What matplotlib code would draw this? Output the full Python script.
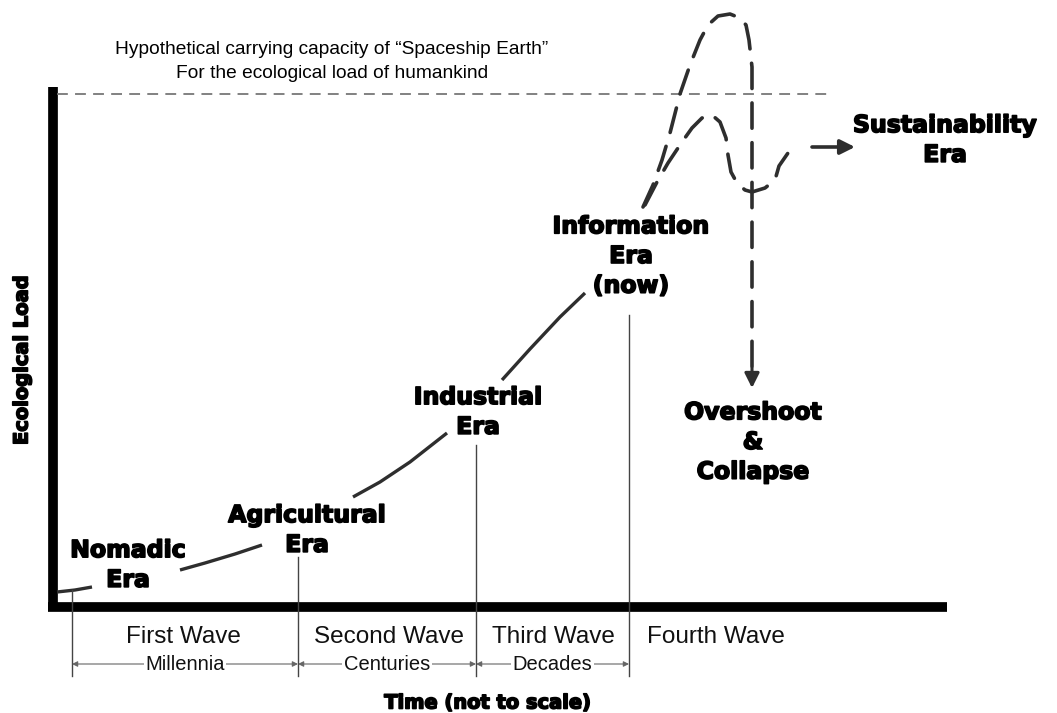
import numpy as np
import matplotlib.pyplot as plt
import matplotlib.patheffects as pe

# Diagram drawn in a pixel-like frame (x right, y down)
# Solid growth curve pieces (between the era labels)
nomadic_x = [57, 75, 92]
nomadic_y = [592, 590, 587]
agri_x = [180, 205, 235, 262]
agri_y = [570, 563, 554, 545]
indus_x = [353, 380, 410, 447]
indus_y = [497, 482, 462, 433]
info_x = [502, 530, 560, 585]
info_y = [380, 349, 317, 293]

# Dashed futures
overshoot_x = [643, 653, 662, 670, 680, 690, 700, 708, 718, 730, 740, 746, 749, 752, 752, 752, 752]
overshoot_y = [207, 185, 160, 133, 94, 65, 40, 25, 16, 14, 18, 25, 40, 67, 120, 250, 372]
sustain_x = [645, 657, 668, 682, 692, 702, 712, 720, 726, 728, 731, 737, 745, 752, 765, 775, 779, 788, 800]
sustain_y = [205, 182, 163, 142, 128, 118, 115, 122, 138, 155, 172, 183, 190, 192, 188, 180, 166, 153, 147]

# Wave boundaries and labels
boundary_x = [72, 298, 476, 629]
boundary_top = [590, 557, 445, 315]
wave_names = ["First Wave", "Second Wave", "Third Wave", "Fourth Wave"]
wave_centers = [183, 389, 553, 716]
wave_spans = ["Millennia", "Centuries", "Decades"]

era_labels = [
    ("Nomadic\nEra", 128, 565),
    ("Agricultural\nEra", 307, 530),
    ("Industrial\nEra", 478, 412),
    ("Information\nEra\n(now)", 631, 256),
    ("Overshoot\n&\nCollapse", 753, 442),
    ("Sustainability\nEra", 945, 140),
]

fig = plt.figure(figsize=(10.57, 7.13), dpi=100, facecolor='white')
ax = fig.add_axes([0, 0, 1, 1])
ax.set_xlim(0, 1057)
ax.set_ylim(713, 0)
ax.axis('off')

dark = '#2e2e2e'
heavy = [pe.withStroke(linewidth=1.2, foreground='black')]

# axes frame
ax.plot([53, 53], [87, 611], color='black', lw=7, solid_capstyle='butt')
ax.plot([48, 947], [607, 607], color='black', lw=7, solid_capstyle='butt')

# carrying capacity line
ax.plot([57, 833], [94, 94], color='#777777', lw=1.3, dashes=(6, 4))
ax.text(332, 49, "Hypothetical carrying capacity of \u201cSpaceship Earth\u201d",
        ha='center', va='center', fontsize=13.8, family='Liberation Sans')
ax.text(332, 74, "For the ecological load of humankind",
        ha='center', va='center', fontsize=13.8, family='Liberation Sans')

# solid curve
for xs, ys in [(nomadic_x, nomadic_y), (agri_x, agri_y), (indus_x, indus_y), (info_x, info_y)]:
    ax.plot(xs, ys, color=dark, lw=2.4, solid_capstyle='butt')

# dashed curves
ax.plot(overshoot_x, overshoot_y, color=dark, lw=2.6, dashes=(7, 4), dash_capstyle='round')
ax.annotate('', xy=(752, 388), xytext=(752, 368),
            arrowprops=dict(arrowstyle='-|>', color=dark, lw=2.2, mutation_scale=22,
                            shrinkA=0, shrinkB=0))
ax.plot(sustain_x, sustain_y, color=dark, lw=2.6, dashes=(7, 4), dash_capstyle='round')
ax.annotate('', xy=(855, 147), xytext=(812, 147),
            arrowprops=dict(arrowstyle='-|>', color=dark, lw=2.6, mutation_scale=22,
                            shrinkA=0, shrinkB=0))

# era labels
for txt, x, y in era_labels:
    ax.text(x, y, txt, ha='center', va='center', fontsize=17, fontweight='bold',
            family='DejaVu Sans', linespacing=1.3, color='black', path_effects=heavy)

# wave boundaries
for bx, bt in zip(boundary_x, boundary_top):
    ax.plot([bx, bx], [bt, 676], color='#444444', lw=1)

for name, cx in zip(wave_names, wave_centers):
    ax.text(cx, 637, name, ha='center', va='center', fontsize=17.5,
            family='Liberation Sans', color='#111111')

for i, span in enumerate(wave_spans):
    x0, x1 = boundary_x[i], boundary_x[i + 1]
    ax.annotate('', xy=(x1, 664), xytext=(x0, 664),
                arrowprops=dict(arrowstyle='<|-|>', color='#666666', lw=0.8,
                                mutation_scale=8, shrinkA=0, shrinkB=0))
    ax.text((x0 + x1) / 2, 664, span, ha='center', va='center', fontsize=14.5,
            family='Liberation Sans', color='#111111',
            bbox=dict(facecolor='white', edgecolor='none', pad=1))

ax.text(488, 703, "Time (not to scale)", ha='center', va='center', fontsize=14,
        fontweight='bold', family='DejaVu Sans', path_effects=heavy)
ax.text(22, 360, "Ecological Load", ha='center', va='center', fontsize=14,
        fontweight='bold', family='DejaVu Sans', rotation=90, path_effects=heavy)

fig.savefig('out.png', dpi=100, facecolor='white')
